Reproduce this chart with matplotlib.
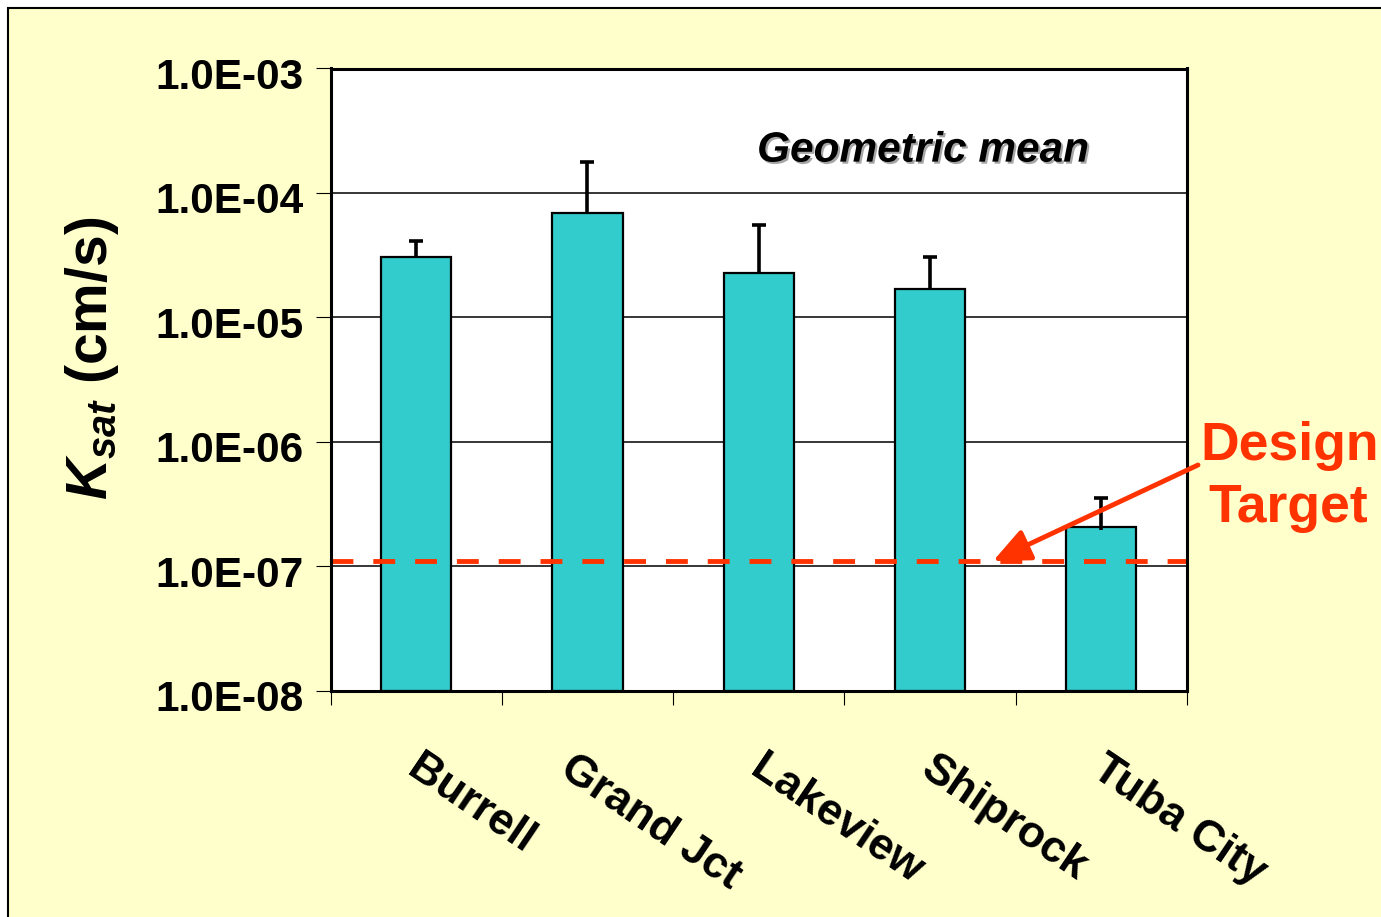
import matplotlib
matplotlib.use("Agg")
import matplotlib.pyplot as plt
import matplotlib.patheffects as pe
from matplotlib.patches import Rectangle
from matplotlib.transforms import ScaledTranslation
import numpy as np

# ---- data ----
sites = ['Burrell', 'Grand Jct', 'Lakeview', 'Shiprock', 'Tuba City']
ksat_mean = [3.04e-5, 6.87e-5, 2.26e-5, 1.68e-5, 1.96e-7]
ksat_upper = [4.09e-5, 1.77e-4, 5.5e-5, 3.04e-5, 3.55e-7]
design_target = 1.1e-7
ytick_vals = [1e-8, 1e-7, 1e-6, 1e-5, 1e-4, 1e-3]
ytick_labels = ['1.0E-08', '1.0E-07', '1.0E-06', '1.0E-05', '1.0E-04', '1.0E-03']

plt.rcParams['font.family'] = ['Liberation Sans', 'DejaVu Sans']
plt.rcParams['font.weight'] = 'bold'
plt.rcParams['mathtext.fontset'] = 'custom'
plt.rcParams['mathtext.it'] = 'Liberation Sans:italic:bold'
plt.rcParams['mathtext.rm'] = 'Liberation Sans:bold'
plt.rcParams['mathtext.bf'] = 'Liberation Sans:bold'

W, H = 1381, 917
fig = plt.figure(figsize=(W / 100, H / 100), dpi=100, facecolor='white')

# slide-like yellow panel with border (clipped at right/bottom)
fig.patches.append(Rectangle((8 / W, -0.05), 1.2, 1 - 8 / H + 0.05,
                             transform=fig.transFigure, facecolor='#FFFFCC',
                             edgecolor='black', lw=1.5, zorder=-10))

ax = fig.add_axes([330.5 / W, 1 - 690.7 / H, (1187 - 330.5) / W, (690.7 - 68.5) / H])
ax.set_facecolor('white')

x = np.arange(len(sites))
mean = np.array(ksat_mean)
upper = np.array(ksat_upper)

ax.set_yscale('log')
ax.set_ylim(1e-8, 1e-3)
ax.set_xlim(-0.5, len(sites) - 0.5)

# gridlines
for v in ytick_vals[1:-1]:
    ax.axhline(v, color='black', lw=1.1, zorder=1)

ax.bar(x, mean, width=0.41, bottom=1e-8, color='#33CCCC', edgecolor='black',
       linewidth=1.6, zorder=2)

# upper error bars only
ax.vlines(x, mean, upper, color='black', lw=2.6, zorder=3)
ax.plot(x, upper, linestyle='none', marker='_', markersize=10.5,
        markeredgewidth=2.6, color='black', zorder=3)

# design target dashed line
ax.axhline(design_target, color='#FF3300', lw=3.5, dashes=(4.5, 4.1), zorder=4)

# y axis ticks
ax.yaxis.set_major_locator(matplotlib.ticker.FixedLocator(ytick_vals))
ax.yaxis.set_minor_locator(matplotlib.ticker.NullLocator())
ax.set_yticklabels(ytick_labels)
ax.tick_params(axis='y', which='major', direction='out', length=10.5, width=0.8,
               pad=9, labelsize=30.5)
for lab in ax.get_yticklabels():
    lab.set_fontweight('bold')
    lab.set_transform(lab.get_transform() + ScaledTranslation(0, -0.05, fig.dpi_scale_trans))

# x axis: major ticks at boundaries, labels at centers
ax.set_xticks(np.arange(len(sites) + 1) - 0.5)
ax.set_xticklabels([])
ax.set_xticks(x, minor=True)
ax.set_xticklabels(sites, minor=True, rotation=-34, ha='left', va='top',
                   rotation_mode='anchor', fontsize=32, fontweight='bold')
ax.tick_params(axis='x', which='major', direction='out', length=10, width=0.8)
ax.tick_params(axis='x', which='minor', length=0, pad=41)
label_dx = [0.07, -0.12, 0.07, 0.07, 0.07]
for lab, dx in zip(ax.get_xticklabels(minor=True), label_dx):
    lab.set_transform(lab.get_transform() + ScaledTranslation(dx, 0, fig.dpi_scale_trans))

for s in ax.spines.values():
    s.set_linewidth(2.2)
    s.set_color('black')
    s.set_zorder(5)

# Geometric mean annotation
ax.text(0.692, 0.868, 'Geometric mean', transform=ax.transAxes, ha='center',
        va='center', fontsize=30.5, fontweight='bold', fontstyle='italic',
        path_effects=[pe.SimplePatchShadow(offset=(1.5, -1.5), shadow_rgbFace='gray', alpha=0.7),
                      pe.Normal()], zorder=6)

# y label
fig.text(92 / W, 1 - 358 / H, r'$K_{sat}$ (cm/s)', rotation=90, ha='center',
         va='center', fontsize=41, fontweight='bold')

# Design Target text
red = '#FF3300'
fig.text(1290 / W, 1 - 460 / H, 'Design', color=red, ha='center', va='baseline',
         fontsize=38.5, fontweight='bold')
fig.text(1288 / W, 1 - 522 / H, 'Target', color=red, ha='center', va='baseline',
         fontsize=38.5, fontweight='bold')

tip_x = (993 - 330.5) / ((1187 - 330.5) / len(sites)) - 0.5
ax.annotate('', xy=(tip_x, design_target), xycoords='data',
            xytext=(1198 / W, 1 - 465 / H), textcoords='figure fraction',
            arrowprops=dict(arrowstyle='-|>,head_length=0.45,head_width=0.2',
                            mutation_scale=50, lw=3.5, color=red,
                            shrinkA=0, shrinkB=0),
            annotation_clip=False, zorder=7)

fig.savefig('out.png', dpi=100, facecolor=fig.get_facecolor())
